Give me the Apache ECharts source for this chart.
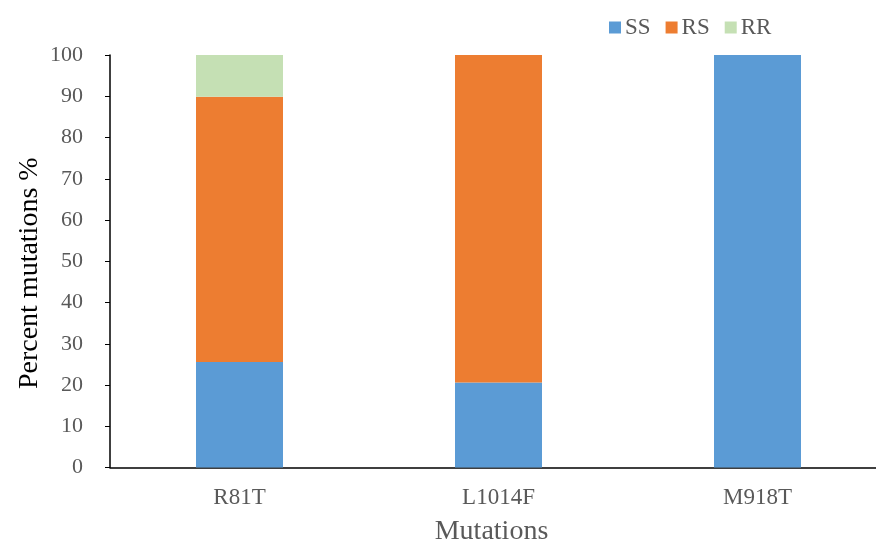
<!DOCTYPE html>
<html>
<head>
<meta charset="utf-8">
<script src="https://cdn.jsdelivr.net/npm/echarts@6/dist/echarts.min.js"></script>
<style>
  html, body { margin: 0; padding: 0; background: #fff; }
  #chart { width: 876px; height: 542px; }
</style>
</head>
<body>
<div id="chart"></div>
<script>
// Genotype frequencies (%) per mutation site
const categories = ['R81T', 'L1014F', 'M918T'];
const ssValues = [25.6, 20.6, 100];
const rsValues = [64.3, 79.4, 0];
const rrValues = [10.1, 0, 0];
const yTicks = { min: 0, max: 100, interval: 10 };

const font = '"Liberation Serif", "Times New Roman", serif';
const grey = '#595959';

const chart = echarts.init(document.getElementById('chart'), null, { renderer: 'canvas' });

function barSeries(name, data, color) {
  return {
    name: name,
    type: 'bar',
    stack: 'total',
    barWidth: 87,
    data: data,
    itemStyle: { color: color },
    emphasis: { disabled: true }
  };
}

chart.setOption({
  animation: false,
  textStyle: { fontFamily: font },
  legend: {
    left: 604,
    top: 11,
    itemWidth: 12,
    itemHeight: 12,
    itemGap: 15,
    icon: 'rect',
    textStyle: { fontFamily: font, fontSize: 23, color: grey, padding: [0, 0, 0, -1] },
    data: ['SS', 'RS', 'RR']
  },
  grid: {
    left: 110, top: 55, width: 777, height: 412.5,
    containLabel: false,
    outerBoundsMode: 'none'
  },
  xAxis: {
    type: 'category',
    data: categories,
    name: 'Mutations',
    nameLocation: 'middle',
    nameGap: 64,
    nameMoveOverlap: false,
    nameTextStyle: { fontFamily: font, fontSize: 28, color: grey, verticalAlign: 'middle', padding: [0, 14, 0, 0] },
    axisLine: { lineStyle: { color: '#000', width: 1.5 } },
    axisTick: { show: false },
    axisLabel: { fontFamily: font, fontSize: 23, color: grey, margin: 19 }
  },
  yAxis: {
    type: 'value',
    min: yTicks.min,
    max: yTicks.max,
    interval: yTicks.interval,
    name: 'Percent mutations %',
    nameLocation: 'middle',
    nameGap: 80,
    nameMoveOverlap: false,
    nameTextStyle: { fontFamily: font, fontSize: 28, color: '#000', verticalAlign: 'middle', padding: [0, 24, 0, 0] },
    axisLine: { show: true, lineStyle: { color: '#000', width: 1.5 } },
    axisTick: { show: true, length: 5, lineStyle: { color: '#000', width: 1 } },
    axisLabel: { fontFamily: font, fontSize: 22, color: grey, margin: 27 },
    splitLine: { show: false }
  },
  series: [
    barSeries('SS', ssValues, '#5B9BD5'),
    barSeries('RS', rsValues, '#ED7D31'),
    barSeries('RR', rrValues, '#C5E0B4')
  ]
});
</script>
</body>
</html>
